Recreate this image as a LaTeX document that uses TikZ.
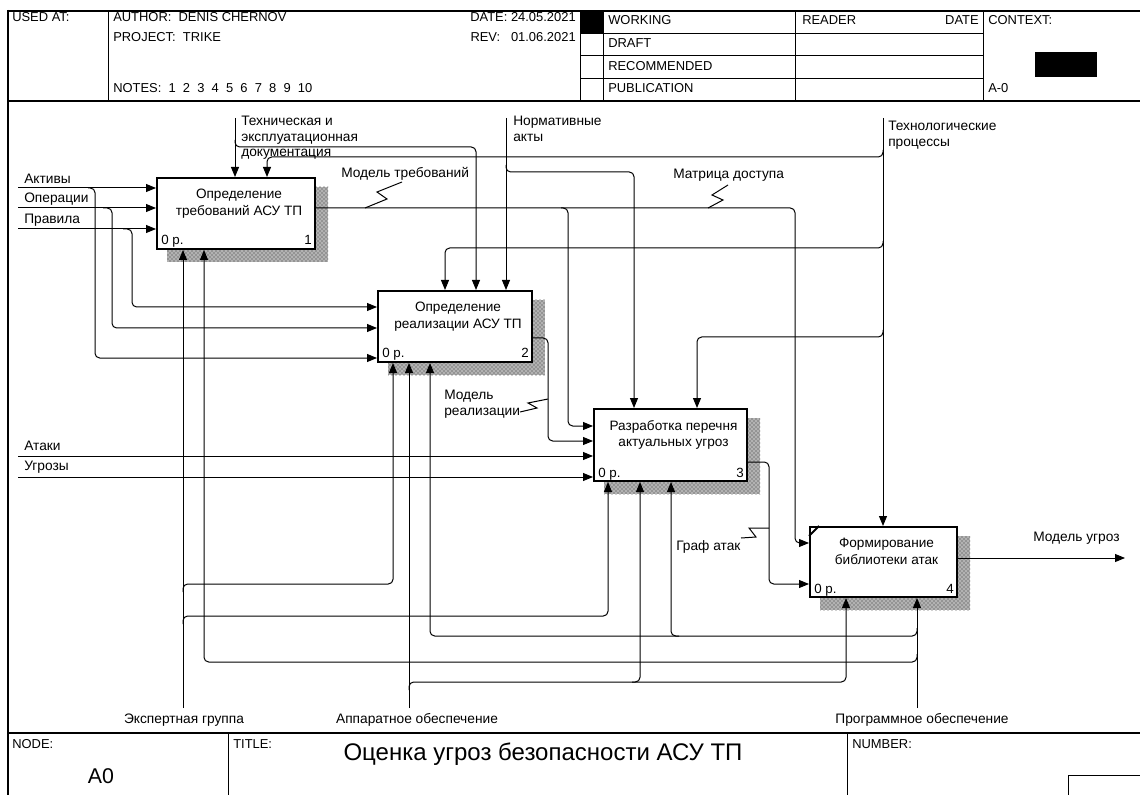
\documentclass[tikz,border=0pt]{standalone}
\usepackage{fontspec}
\setmainfont{Liberation Sans}
\usepackage{tikz}
\usetikzlibrary{arrows.meta,calc,patterns,backgrounds}

\begin{document}
\begin{tikzpicture}[x=0.75pt,y=0.75pt,yscale=-1,xscale=1,
  fnbox/.style={draw,line width=1.5pt,fill=white,minimum height=71*0.75pt,inner sep=0pt},
  boxtxt/.style={font=\fontsize{10.2}{12.5}\selectfont,align=center,inner sep=0pt,anchor=north},
  boxnum/.style={font=\fontsize{10}{12}\selectfont,inner sep=0pt},
  lbl/.style={font=\fontsize{10.3}{11.5}\selectfont,inner sep=0pt,align=left},
  hdr/.style={font=\fontsize{9.7}{11}\selectfont,inner sep=0pt},
  frame/.style={line width=1.5pt},
  conn/.style={line width=0.75pt,rounded corners=3.5pt},
  arr/.style={conn,-{Triangle[length=7.5pt,width=6pt]}},
  squig/.style={line width=0.75pt},
  shade/.style={fill=black!30,postaction={pattern=crosshatch dots,pattern color=black!80}}]
\useasboundingbox (0,0) rectangle (1140,795);

%Frame and header
\draw[line width=2pt] (8,10) -- (8,795);
\draw[frame] (8,11) -- (1140,11);
\draw[frame] (8,101) -- (1140,101);
\draw[frame] (8,733) -- (1140,733);
\draw (108,11) -- (108,101);
\draw (580,11) -- (580,101);
\draw (603,11) -- (603,101);
\fill (580,11) rectangle (603,33);
\draw (580,33) -- (983,33);
\draw (580,55) -- (983,55);
\draw (580,78) -- (983,78);
\draw (795,11) -- (795,101);
\draw (983,11) -- (983,101);
\fill (1035,52) rectangle (1097,77);
\draw (228,733) -- (228,795);
\draw (847,733) -- (847,795);
\draw (1068,795) -- (1068,775) -- (1140,775);

% Text Node
\node[hdr,anchor=base west] (usedat) at (12,22) {USED AT:};
\node[hdr,anchor=base west] (author) at (113,22) {AUTHOR:\ \ DENIS CHERNOV};
\node[hdr,anchor=base west] (project) at (113,42) {PROJECT:\ \ TRIKE};
\node[hdr,anchor=base west] (notes) at (113,93) {NOTES:\ \ 1\ \ 2\ \ 3\ \ 4\ \ 5\ \ 6\ \ 7\ \ 8\ \ 9\ \ 10};
\node[hdr,anchor=base east] (date) at (576,22) {DATE: 24.05.2021};
\node[hdr,anchor=base east] (rev) at (576,42) {REV:\ \ \ 01.06.2021};
\node[hdr,anchor=base west] (working) at (608,25) {WORKING};
\node[hdr,anchor=base west] (draft) at (608,48) {DRAFT};
\node[hdr,anchor=base west] (recom) at (608,71) {RECOMMENDED};
\node[hdr,anchor=base west] (public) at (608,93) {PUBLICATION};
\node[hdr,anchor=base west] (reader) at (802,25) {READER};
\node[hdr,anchor=base east] (rdate) at (979,25) {DATE};
\node[hdr,anchor=base west] (context) at (988,25) {CONTEXT:};
\node[hdr,anchor=base west] (ctxnode) at (988,93) {A-0};
\node[hdr,anchor=base west] (nodelbl) at (12,748) {NODE:};
\node[hdr,anchor=base west] (titlelbl) at (233,748) {TITLE:};
\node[hdr,anchor=base west] (numberlbl) at (852,748) {NUMBER:};
\node[font=\fontsize{16}{18}\selectfont,inner sep=0pt,anchor=base] (nodenum) at (101,783) {A0};
\node[font=\fontsize{18}{20}\selectfont,inner sep=0pt,anchor=base] (title) at (543,760) {Оценка угроз безопасности АСУ ТП};

%Shape: Boxes
\node[fnbox,minimum width=158*0.75pt] (b1) at (236,213.5) {};
\node[fnbox,minimum width=154*0.75pt] (b2) at (455,326.5) {};
\node[fnbox,minimum width=153*0.75pt,minimum height=72*0.75pt] (b3) at (670.5,445) {};
\node[fnbox,minimum width=147*0.75pt,minimum height=70*0.75pt] (b4) at (883.5,562) {};
\begin{scope}[on background layer]
\foreach \b in {b1,b2,b3,b4}
  \path[shade] ($(\b.north west)+(11,10)$) rectangle ($(\b.south east)+(12,12)$);
\end{scope}
\draw[line width=1.5pt] ($(b4.north west)+(0,10)$) -- ($(b4.north west)+(10,0)$);

\node[boxtxt] (b1t) at ($(b1.north)+(3,12)$) {Определение\\требований АСУ ТП};
\node[boxtxt] (b2t) at ($(b2.north)+(3,12)$) {Определение\\реализации АСУ ТП};
\node[boxtxt] (b3t) at ($(b3.north)+(3,12)$) {Разработка перечня\\актуальных угроз};
\node[boxtxt] (b4t) at ($(b4.north)+(3,12)$) {Формирование\\библиотеки атак};
\node[boxnum,anchor=base west] (b1p) at ($(b1.south west)+(5,-5)$) {0 р.};
\node[boxnum,anchor=base east] (b1n) at ($(b1.south east)+(-4,-5)$) {1};
\node[boxnum,anchor=base west] (b2p) at ($(b2.south west)+(5,-5)$) {0 р.};
\node[boxnum,anchor=base east] (b2n) at ($(b2.south east)+(-4,-5)$) {2};
\node[boxnum,anchor=base west] (b3p) at ($(b3.south west)+(5,-5)$) {0 р.};
\node[boxnum,anchor=base east] (b3n) at ($(b3.south east)+(-4,-5)$) {3};
\node[boxnum,anchor=base west] (b4p) at ($(b4.south west)+(5,-5)$) {0 р.};
\node[boxnum,anchor=base east] (b4n) at ($(b4.south east)+(-4,-5)$) {4};

%Arrow ends
\coordinate (akt) at (18,188);
\coordinate (opr) at (18,208);
\coordinate (prv) at (18,229);
\coordinate (atk) at (18,456);
\coordinate (ugr) at (18,477);
\coordinate (tdoc) at (235,118);
\coordinate (norm) at (506,118);
\coordinate (tproc) at (883,118);
\coordinate (expg) at (183,708);
\coordinate (appo) at (409,708);
\coordinate (prog) at (917,708);
\coordinate (mugr) at (1125,558);

%Inputs
\draw[arr] (akt) -- (akt -| b1.west);
\draw[arr] (opr) -- (opr -| b1.west);
\draw[arr] (prv) -- (prv -| b1.west);
\draw[arr] ($(akt)+(70,0)$) -- (95,188) -- (95,358) -- (b2.west |- 0,358);
\draw[arr] ($(opr)+(85,0)$) -- (112,208) -- (112,328) -- (b2.west |- 0,328);
\draw[arr] ($(prv)+(105,0)$) -- (132,229) -- (132,307) -- (b2.west |- 0,307);
\draw[arr] (atk) -- (atk -| b3.west);
\draw[arr] (ugr) -- (ugr -| b3.west);

%Controls
\draw[arr] (tdoc) -- (tdoc |- b1.north);
\draw[arr] (235,140) -- (235,147) -- (476,147) -- (b2.north -| 476,0);
\draw[arr] (norm) -- (norm |- b2.north);
\draw[arr] (506,165) -- (506,172) -- (634,172) -- (b3.north -| 634,0);
\draw[arr] (tproc) -- (tproc |- b4.north);
\draw[arr] (883,150) -- (883,157) -- (267,157) -- (b1.north -| 267,0);
\draw[arr] (883,241) -- (883,248) -- (445,248) -- (b2.north -| 445,0);
\draw[arr] (883,330) -- (883,337) -- (697,337) -- (b3.north -| 697,0);

%Outputs
\draw[arr] (b1.east |- 0,208) -- (795,208) -- (795,543) -- (b4.west |- 0,543);
\draw[arr] (561,208) -- (568,208) -- (568,426) -- (b3.west |- 0,426);
\draw[arr] (b2.east |- 0,338) -- (548,338) -- (548,441) -- (b3.west |- 0,441);
\draw[arr] (b3.east |- 0,462) -- (769,462) -- (769,584) -- (b4.west |- 0,584);
\draw[arr] (b4.east |- mugr) -- (mugr);

%Mechanisms
\draw[arr] (expg) -- (expg |- b1.south);
\draw[arr] (183,592) -- (183,584) -- (393,584) -- (b2.south -| 393,0);
\draw[arr] (183,624) -- (183,616) -- (608,616) -- (b3.south -| 608,0);
\draw[arr] (appo) -- (appo |- b2.south);
\draw[arr] (409,690) -- (409,682) -- (846,682) -- (b4.south -| 846,0);
\draw[arr] (632,682) -- (640,682) -- (b3.south -| 640,0);
\draw[arr] (prog) -- (prog |- b4.south);
\draw[arr] (917,628) -- (917,636) -- (430,636) -- (b2.south -| 430,0);
\draw[arr] (679,636) -- (671,636) -- (b3.south -| 671,0);
\draw[arr] (917,654) -- (917,662) -- (204,662) -- (b1.south -| 204,0);

%Squiggles
\draw[squig] (365,208) -- (387,199) -- (377,192) -- (402,182);
\draw[squig] (708,208) -- (723,200) -- (712,195) -- (728,185);
\draw[squig] (520,412) -- (537,408) -- (528,403) -- (548,399);
\draw[squig] (741,538) -- (756,537) -- (749,528) -- (769,528);

% Text Node
\node[lbl,anchor=base west] (lakt) at (24,184) {Активы};
\node[lbl,anchor=base west] (lopr) at (24,203) {Операции};
\node[lbl,anchor=base west] (lprv) at (24,224) {Правила};
\node[lbl,anchor=base west] (latk) at (24,450) {Атаки};
\node[lbl,anchor=base west] (lugr) at (24,470) {Угрозы};
\node[lbl,anchor=north west] (ltdoc) at (241,116) {Техническая и\\эксплуатационная\\документация};
\node[lbl,anchor=north west] (lnorm) at (513,116) {Нормативные\\акты};
\node[lbl,anchor=north west] (ltproc) at (888,121) {Технологические\\процессы};
\node[lbl,anchor=base west] (lmtreb) at (341,178) {Модель требований};
\node[lbl,anchor=base west] (lmatr) at (673,179) {Матрица доступа};
\node[lbl,anchor=north west] (lmreal) at (444,390) {Модель\\реализации};
\node[lbl,anchor=base west] (lgraf) at (676,550) {Граф атак};
\node[lbl,anchor=base west] (lmugr) at (1033,541) {Модель угроз};
\node[lbl,anchor=base] (lexpg) at (184,723) {Экспертная группа};
\node[lbl,anchor=base] (lappo) at (417,723) {Аппаратное обеспечение};
\node[lbl,anchor=base] (lprog) at (922,723) {Программное обеспечение};
\end{tikzpicture}
\end{document}
